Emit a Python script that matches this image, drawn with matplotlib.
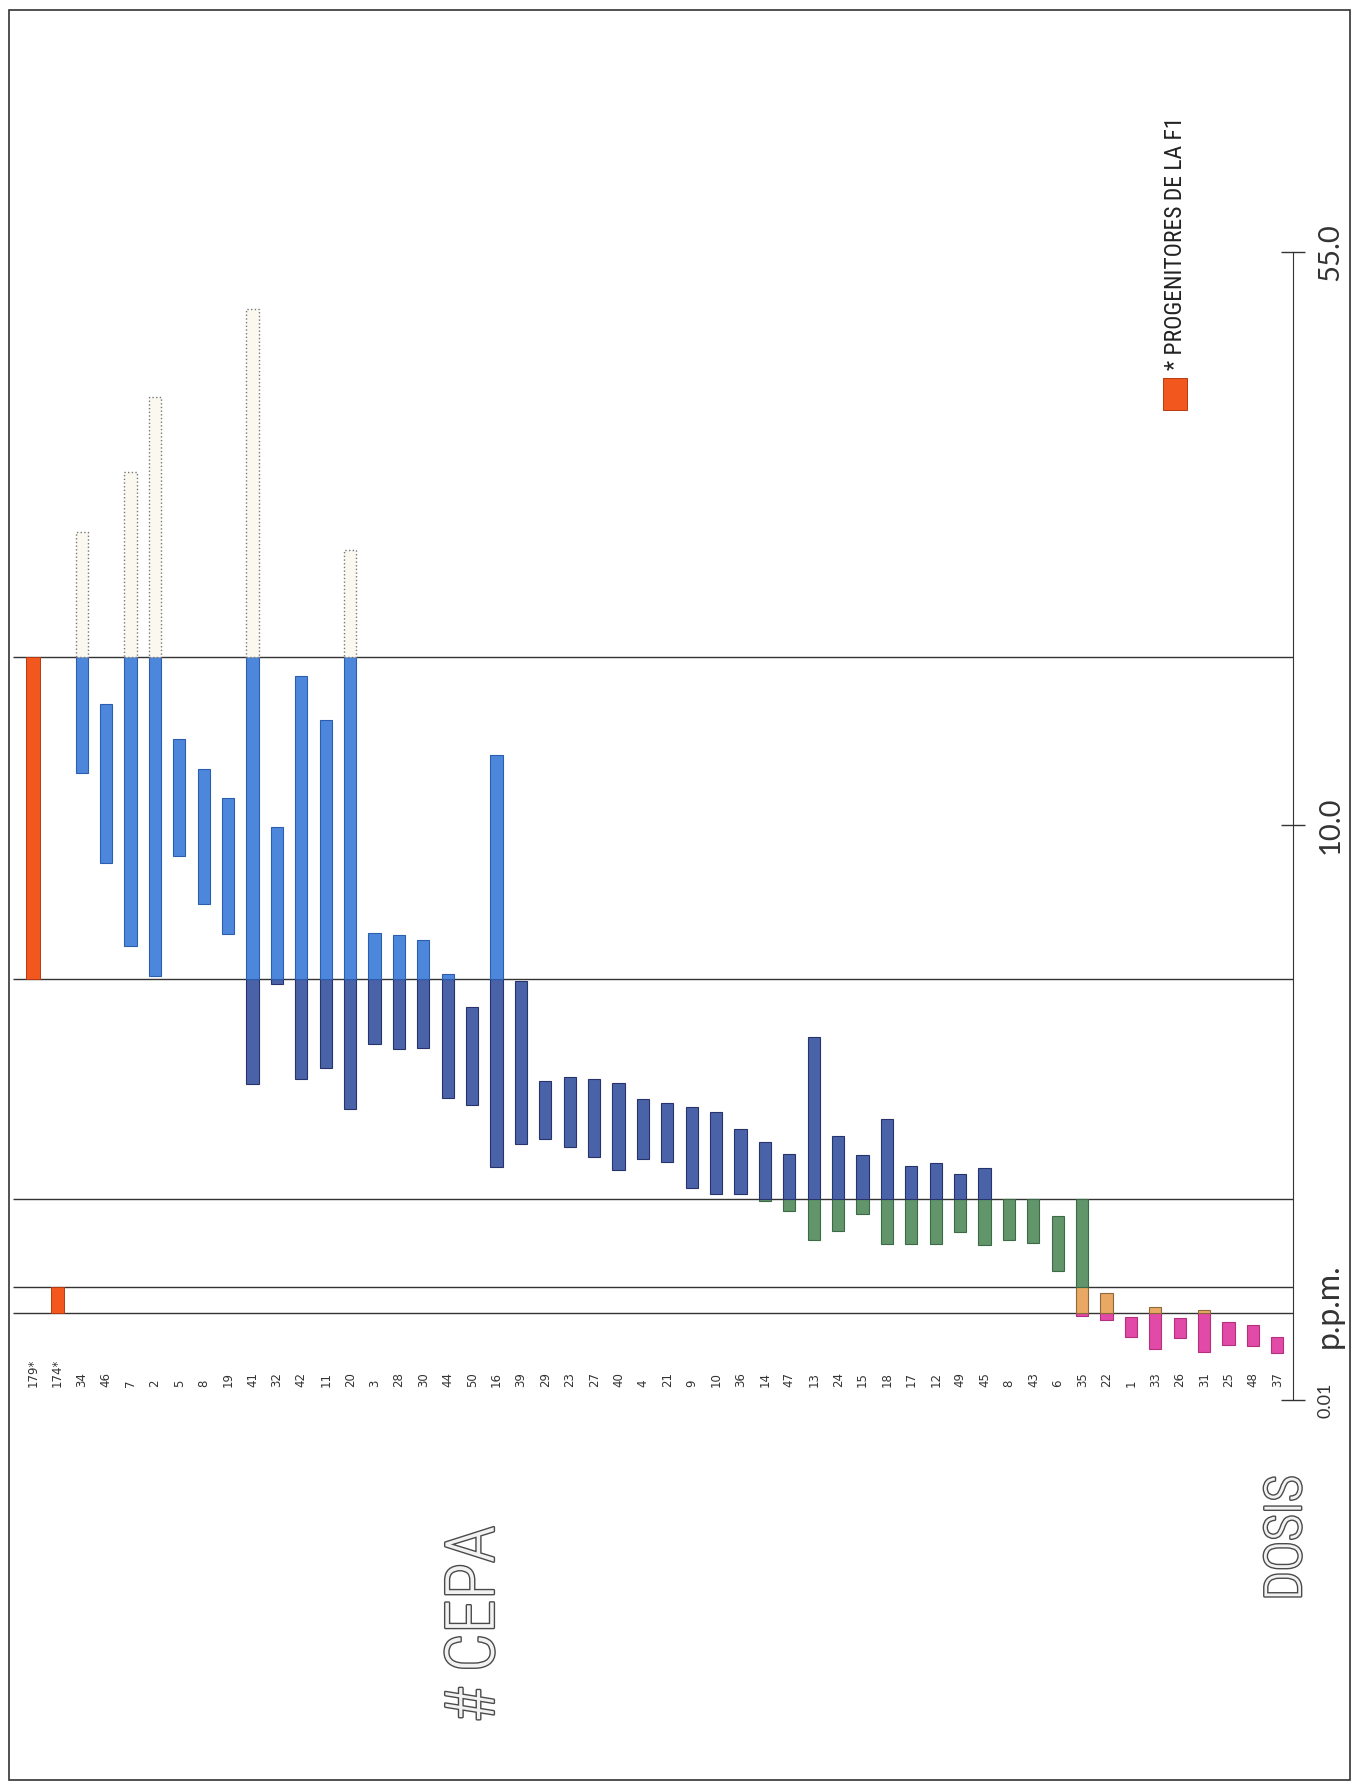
import matplotlib.pyplot as plt
import matplotlib.patheffects as pe
from matplotlib.patches import Rectangle

# strains (left to right) and tolerated dose range, in chart units
# (0 = 0.01 p.p.m. tick, 100 = 55.0 p.p.m. tick)
strains = ['179*', '174*', '34', '46', '7', '2', '5', '8', '19', '41', '32', '42', '11', '20',
           '3', '28', '30', '44', '50', '16', '39', '29', '23', '27', '40', '4', '21', '9',
           '10', '36', '14', '47', '13', '24', '15', '18', '17', '12', '49', '45', '8', '43',
           '6', '35', '22', '1', '33', '26', '31', '25', '48', '37']
low = [36.7, 7.6, 54.6, 46.8, 39.5, 36.9, 47.4, 43.2, 40.6, 27.5, 36.2, 28.0, 28.9, 25.3,
       31.0, 30.6, 30.7, 26.3, 25.7, 20.3, 22.3, 22.7, 22.0, 21.2, 20.0, 21.0, 20.7, 18.5,
       17.9, 17.9, 17.3, 16.5, 13.9, 14.7, 16.2, 13.6, 13.6, 13.6, 14.6, 13.5, 13.9, 13.7,
       11.2, 7.3, 7.0, 5.5, 4.4, 5.4, 4.2, 4.8, 4.7, 4.1]
high = [64.7, 9.8, 75.6, 60.6, 80.8, 87.4, 57.6, 55.0, 52.4, 95.0, 49.9, 63.1, 59.2, 74.0,
        40.7, 40.5, 40.1, 37.1, 34.2, 56.2, 36.5, 27.8, 28.1, 28.0, 27.6, 26.2, 25.9, 25.5,
        25.1, 23.6, 22.5, 21.4, 31.6, 23.0, 21.3, 24.5, 20.4, 20.6, 19.7, 20.2, 17.5, 17.5,
        16.0, 17.5, 9.3, 7.2, 8.1, 7.1, 7.8, 6.8, 6.5, 5.5]
progenitors = ['179*', '174*']

dose_ticks = [0, 50.1, 100]
dose_labels = ['0.01', '10.0', '55.0']
zone_lines = [7.6, 9.8, 17.5, 36.7, 64.7]
zone_colors = ['#e24aa8', '#eaa865', '#62956a', '#4a63a8', '#4d87db', '#fbf8f0']
zone_edges = ['#b3307c', '#8c6a3a', '#3d6a46', '#26336c', '#2c5eb0', '#777777']
red = '#f2581e'

narrow = ['Roboto Condensed', 'Liberation Sans', 'DejaVu Sans']

fig = plt.figure(figsize=(13.54, 17.87), dpi=100)
fig.patch.set_facecolor('white')

ax = fig.add_axes([0, 0.2166, 1293 / 1354, 0.6424])
ax.set_facecolor('none')
ax.set_xlim(-1.35, 51.64)
ax.set_ylim(0, 100)

# zone boundary lines
ax.hlines(zone_lines, -0.8, 51.64, color='#333333', lw=1.0, zorder=1)

bounds = [-1e9] + zone_lines + [1e9]
for i, (s, lo, hi) in enumerate(zip(strains, low, high)):
    if s in progenitors:
        ax.bar(i, hi - lo, bottom=lo, width=0.56, color=red, edgecolor='#b83a10',
               lw=0.7, zorder=3)
    else:
        for z in range(len(zone_colors)):
            a = max(lo, bounds[z])
            b = min(hi, bounds[z + 1])
            if b > a:
                ax.bar(i, b - a, bottom=a, width=0.5, color=zone_colors[z],
                       edgecolor=zone_edges[z], lw=1.0 if z == 5 else 0.8,
                       ls=':' if z == 5 else '-', zorder=3)
    ax.text(i, 1.1, s, rotation=90, rotation_mode='anchor', ha='left', va='center',
            fontsize=8.5, color='#333333')

for side in ['left', 'top', 'bottom']:
    ax.spines[side].set_visible(False)
ax.spines['right'].set_bounds(0, 100)
ax.spines['right'].set_color('#333333')
ax.set_xticks([])
ax.yaxis.tick_right()
ax.set_yticks(dose_ticks, dose_labels)
ax.tick_params(axis='y', direction='inout', length=17, width=1, pad=9,
               labelsize=21, colors='#333333', labelrotation=90)
for lbl in ax.get_yticklabels():
    lbl.set_family('Lato')
    lbl.set_va('center')
ax.get_yticklabels()[0].set_fontsize(13)

fig.text(0.9705, 0.2692, 'p.p.m.', rotation=90, ha='left', va='center',
         fontsize=23, color='#333333', family='Lato')

outline = [pe.Stroke(linewidth=2.0, foreground='#4a4a4a'), pe.Normal()]
fig.text(0.9505, 0.1393, 'DOSIS', rotation=90, ha='center', va='center', fontsize=37,
         color='#f2f2f2', family=narrow, fontweight='light', path_effects=outline)
fig.text(0.3508, 0.0912, '# CEPA', rotation=90, ha='center', va='center', fontsize=49,
         color='#f2f2f2', family=narrow, fontweight='light', path_effects=outline)

# legend
fig.add_artist(Rectangle((0.8589, 0.7706), 0.0177, 0.0179, transform=fig.transFigure,
                         facecolor=red, edgecolor='#b83a10', lw=0.7))
fig.text(0.8678, 0.7930, '* PROGENITORES DE LA F1', rotation=90, rotation_mode='anchor',
         ha='left', va='center', fontsize=17, color='#222222', family=narrow)

# page frame
fig.add_artist(Rectangle((9 / 1354, 7 / 1787), 1341 / 1354, 1770 / 1787,
                         transform=fig.transFigure, fill=False, edgecolor='#333333', lw=1.2))

fig.savefig('out.png', dpi=100)
